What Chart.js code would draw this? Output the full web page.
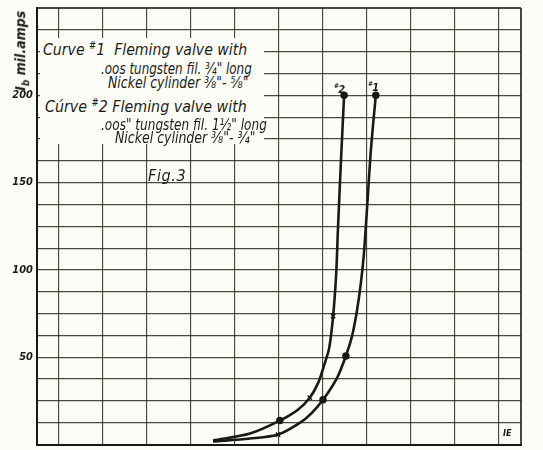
<!DOCTYPE html>
<html><head><meta charset="utf-8">
<script src="https://cdn.jsdelivr.net/npm/chart.js@4"></script>
<style>
html,body{margin:0;padding:0;background:#fdfdf8;}
#wrap{position:relative;width:543px;height:450px;overflow:hidden;background:#fdfdf8;}
#c{position:absolute;left:0;top:0;}
.t{position:absolute;font-family:"Liberation Sans Narrow","DejaVu Sans Condensed",sans-serif;font-style:italic;color:#1c1c16;white-space:nowrap;line-height:1;transform-origin:0 50%;}
.patch{position:absolute;background:#fdfdf8;}
sup{font-size:60%;vertical-align:top;position:relative;top:-1px;}
</style></head>
<body>
<div id="wrap">
<canvas id="c" width="543" height="450"></canvas>
<div class="patch" style="left:40px;top:38px;width:224px;height:106px;"></div>
<div class="t" style="left:43px;top:42px;font-size:16px;transform:scaleX(0.98);">Curve <sup>#</sup>1 &nbsp;Fleming valve with</div>
<div class="t" style="left:101px;top:61px;font-size:16px;transform:scaleX(0.83);">.oos tungsten fil. ¾" long</div>
<div class="t" style="left:108px;top:75px;font-size:16px;transform:scaleX(0.87);">Nickel cylinder ⅜"- ⅝"</div>
<div class="t" style="left:45px;top:99px;font-size:16px;transform:scaleX(0.99);">Cúrve <sup>#</sup>2 Fleming valve with</div>
<div class="t" style="left:101px;top:117px;font-size:16px;transform:scaleX(0.84);">.oos" tungsten fil. 1½" long</div>
<div class="t" style="left:115px;top:130px;font-size:16px;transform:scaleX(0.87);">Nickel cylinder ⅜"- ¾"</div>
<div class="t" style="left:148px;top:168px;font-size:16px;letter-spacing:0.6px;">Fig.3</div>
<div class="t" style="left:-16px;top:44px;width:76px;font-size:14px;font-weight:bold;transform:rotate(-90deg);transform-origin:50% 50%;text-align:center;">I<sub style="font-size:70%">b</sub> mil.amps</div>
<div class="t" style="left:334px;top:84px;font-size:11px;font-weight:bold;"><sup>#</sup>2</div>
<div class="t" style="left:368px;top:82px;font-size:11px;font-weight:bold;"><sup>#</sup>1</div>
<div class="t" style="left:503px;top:429px;font-size:9px;font-weight:bold;">IE</div>
</div>
<script>
// Data
const curve1X = [4.00, 4.84, 5.48, 5.98, 6.23, 6.50, 6.82, 7.02, 7.16, 7.27, 7.36, 7.43, 7.50, 7.59, 7.70];
const curve1Y = [1.7, 3.4, 5.7, 12.5, 17.7, 25.6, 38.2, 50.7, 62.1, 76.3, 92.3, 109.3, 135.0, 169.1, 200];
const curve1Marks = ['', '', 'x', '', '', 'o', '', 'o', '', '', '', '', '', '', 'o'];

const curve2X = [4.00, 4.84, 5.52, 5.93, 6.20, 6.39, 6.52, 6.64, 6.73, 6.80, 6.84, 6.91, 6.98];
const curve2Y = [2.3, 6.3, 13.7, 19.9, 26.8, 35.3, 45.0, 55.2, 73.5, 97.9, 123.6, 163.4, 200];
const curve2Marks = ['', '', 'o', '', 'x', '', '', '', 'x', '', '', '', 'o'];

const yTickLabels = [50, 100, 150, 200];
const xGridValues = [0, 0.5, 1.5, 2.5, 3.5, 4.5, 5.5, 6.5, 7.5, 8.5, 9.5, 10.5, 11];

const ink = '#1a1a14';
const gridInk = 'rgba(38,44,28,0.85)';

function pts(xs, ys){ return xs.map((x,i)=>({x:x, y:ys[i]})); }
function radii(m){ return m.map(k => k ? 3 : 0); }
function styles(m){ return m.map(k => k === 'x' ? 'crossRot' : 'circle'); }

new Chart(document.getElementById('c'), {
  type: 'line',
  data: {
    datasets: [
      { label: 'Curve #1', data: pts(curve1X, curve1Y), borderColor: ink, backgroundColor: ink,
        borderWidth: 2.6, tension: 0.3, pointRadius: radii(curve1Marks),
        pointStyle: styles(curve1Marks), pointBorderWidth: 1.5, pointBorderColor: ink },
      { label: 'Curve #2', data: pts(curve2X, curve2Y), borderColor: ink, backgroundColor: ink,
        borderWidth: 2.6, tension: 0.3, pointRadius: radii(curve2Marks),
        pointStyle: styles(curve2Marks), pointBorderWidth: 1.5, pointBorderColor: ink }
    ]
  },
  options: {
    responsive: false,
    animation: false,
    layout: { padding: { left: 0, top: 8, right: 22, bottom: 1 } },
    plugins: { legend: { display: false }, tooltip: { enabled: false } },
    scales: {
      x: {
        type: 'linear', min: 0, max: 11,
        afterBuildTicks: s => { s.ticks = xGridValues.map(v => ({value: v})); },
        afterFit: s => { s.height = 0; s.paddingLeft = 0; s.paddingRight = 0; },
        ticks: { display: false },
        grid: { color: gridInk, lineWidth: c => (c.tick && (c.tick.value === 0 || c.tick.value === 11)) ? 2 : 1.15, drawTicks: false },
        border: { color: ink, width: 2 }
      },
      y: {
        type: 'linear', min: 0, max: 250,
        ticks: { stepSize: 12.5, padding: 4, color: ink,
          font: { family: '"Liberation Sans Narrow","DejaVu Sans Condensed",sans-serif', style: 'italic', weight: 'bold', size: 11 },
          callback: v => yTickLabels.includes(v) ? String(v) : '' },
        afterFit: s => { s.width = 37; s.paddingTop = 0; s.paddingBottom = 0; },
        grid: { color: gridInk, lineWidth: c => (c.tick && (c.tick.value === 0 || c.tick.value === 250)) ? 2 : 1.15, drawTicks: false },
        border: { color: ink, width: 2 }
      }
    }
  }
});
</script>
</body></html>
